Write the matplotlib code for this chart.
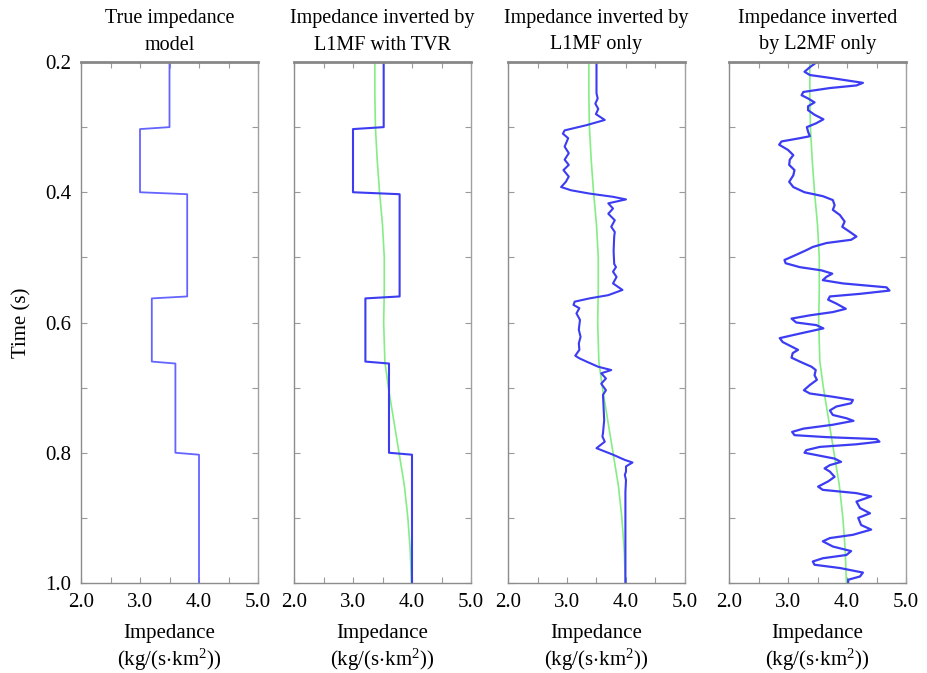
import numpy as np
import matplotlib
matplotlib.use("Agg")
import matplotlib.pyplot as plt
from matplotlib.ticker import FixedLocator

plt.rcParams['font.family'] = ['Liberation Serif', 'DejaVu Serif']
plt.rcParams['mathtext.fontset'] = 'custom'
plt.rcParams['mathtext.rm'] = 'Liberation Serif'
plt.rcParams['mathtext.default'] = 'regular'

titles = ["True impedance\nmodel",
          "Impedance inverted by\nL1MF with TVR",
          "Impedance inverted by\nL1MF only",
          "Impedance inverted\nby L2MF only"]
xlabel = "Impedance\n(kg/(s$\\cdot$km$^2$))"

# layered (blocky) models: layer top times and impedance values
layer_tops = [0.20, 0.30, 0.40, 0.56, 0.66, 0.80]
true_vals = [3.5, 3.0, 3.8, 3.2, 3.6, 4.0]
tvr_vals = [3.52, 3.0, 3.79, 3.21, 3.61, 4.0]

# low-frequency initial model (green)
init_t = [0.20, 0.25, 0.30, 0.35, 0.40, 0.45, 0.50, 0.55, 0.60, 0.66, 0.70,
          0.75, 0.80, 0.85, 0.90, 0.95, 1.00]
init_v = [3.37, 3.37, 3.38, 3.41, 3.45, 3.50, 3.53, 3.53, 3.52, 3.54, 3.60,
          3.69, 3.78, 3.87, 3.93, 3.97, 3.99]

# L1MF only (traced)
l1_t = [0.200, 0.248, 0.256, 0.264, 0.272, 0.280, 0.289, 0.297, 0.305, 0.310,
        0.317, 0.330, 0.340, 0.350, 0.358, 0.366, 0.376, 0.384, 0.392, 0.397,
        0.402, 0.407, 0.411, 0.417, 0.425, 0.433, 0.443, 0.453, 0.461, 0.468,
        0.490, 0.510, 0.515, 0.522, 0.530, 0.540, 0.550, 0.558, 0.563, 0.568,
        0.573, 0.578, 0.586, 0.596, 0.611, 0.622, 0.632, 0.642, 0.651, 0.655,
        0.660, 0.668, 0.673, 0.678, 0.686, 0.694, 0.704, 0.711, 0.730, 0.750,
        0.770, 0.775, 0.783, 0.793, 0.798, 0.803, 0.811, 0.815, 0.821, 0.829,
        0.834, 0.842, 0.860, 0.900, 1.000]
l1_v = [3.50, 3.50, 3.52, 3.48, 3.53, 3.49, 3.64, 3.33, 2.96, 2.93,
        3.02, 2.96, 3.03, 2.96, 3.03, 2.94, 3.03, 2.98, 2.90, 3.07,
        3.38, 3.78, 4.00, 3.70, 3.78, 3.70, 3.81, 3.75, 3.81, 3.80,
        3.79, 3.80, 3.83, 3.78, 3.84, 3.78, 3.94, 3.70, 3.38, 3.13,
        3.11, 3.21, 3.16, 3.22, 3.20, 3.23, 3.20, 3.21, 3.14, 3.21,
        3.33, 3.53, 3.75, 3.58, 3.66, 3.58, 3.66, 3.61, 3.62, 3.63,
        3.61, 3.60, 3.64, 3.50, 3.64, 3.78, 3.98, 4.11, 4.00, 4.00,
        3.98, 4.00, 3.99, 3.99, 3.99]

# L2MF only (traced)
l2_t = [0.200, 0.208, 0.215, 0.220, 0.225, 0.232, 0.236, 0.240, 0.246, 0.251,
        0.256, 0.262, 0.268, 0.274, 0.281, 0.288, 0.294, 0.300, 0.307, 0.314,
        0.317, 0.322, 0.327, 0.335, 0.343, 0.350, 0.358, 0.366, 0.374, 0.384,
        0.392, 0.400, 0.406, 0.412, 0.420, 0.427, 0.435, 0.445, 0.453, 0.461,
        0.468, 0.473, 0.478, 0.484, 0.489, 0.496, 0.504, 0.509, 0.515, 0.520,
        0.525, 0.530, 0.535, 0.540, 0.546, 0.551, 0.556, 0.560, 0.565, 0.571,
        0.579, 0.584, 0.589, 0.594, 0.600, 0.604, 0.609, 0.617, 0.624, 0.630,
        0.637, 0.642, 0.647, 0.654, 0.660, 0.668, 0.673, 0.681, 0.688, 0.696,
        0.704, 0.709, 0.714, 0.719, 0.724, 0.729, 0.735, 0.742, 0.747, 0.751,
        0.757, 0.763, 0.768, 0.773, 0.776, 0.779, 0.783, 0.787, 0.791, 0.796,
        0.800, 0.803, 0.809, 0.814, 0.819, 0.824, 0.829, 0.837, 0.844, 0.852,
        0.857, 0.862, 0.867, 0.875, 0.885, 0.893, 0.900, 0.911, 0.918, 0.926,
        0.931, 0.936, 0.944, 0.951, 0.957, 0.962, 0.967, 0.972, 0.977, 0.984,
        0.990, 0.995, 1.000]
l2_v = [3.49, 3.37, 3.28, 3.37, 3.76, 4.27, 4.16, 3.71, 3.26, 3.23,
        3.34, 3.45, 3.34, 3.34, 3.45, 3.60, 3.48, 3.32, 3.34, 3.37,
        3.20, 2.89, 2.85, 3.00, 3.09, 3.03, 3.02, 3.11, 3.09, 3.02,
        3.09, 3.28, 3.59, 3.76, 3.79, 3.76, 3.88, 3.96, 3.92, 4.05,
        4.16, 4.07, 3.65, 3.42, 3.31, 3.14, 2.94, 2.96, 3.20, 3.57,
        3.75, 3.65, 3.59, 3.93, 4.67, 4.72, 4.22, 3.71, 3.68, 3.82,
        3.98, 3.76, 3.37, 3.06, 3.14, 3.48, 3.60, 3.20, 2.86, 2.91,
        3.06, 3.17, 3.08, 3.06, 3.20, 3.40, 3.47, 3.45, 3.49, 3.37,
        3.27, 3.37, 3.76, 4.10, 4.07, 3.82, 3.71, 3.76, 3.99, 4.11,
        3.76, 3.26, 3.07, 3.11, 3.65, 4.50, 4.55, 4.16, 3.54, 3.31,
        3.28, 3.45, 3.79, 3.90, 3.71, 3.62, 3.71, 3.79, 3.68, 3.51,
        3.59, 4.16, 4.41, 4.16, 4.22, 4.39, 4.19, 4.24, 4.41, 4.10,
        3.71, 3.59, 3.76, 4.07, 3.99, 3.59, 3.42, 3.45, 3.88, 4.27,
        4.22, 4.02, 4.02]


def blocky(tops, vals, t_end=1.0, ramp=0.003):
    t, v = [tops[0]], [vals[0]]
    for i in range(1, len(tops)):
        t += [tops[i], tops[i] + ramp]
        v += [vals[i - 1], vals[i]]
    t.append(t_end)
    v.append(vals[-1])
    return v, t


fig = plt.figure(figsize=(9.27, 6.73), dpi=100)
lefts = [81, 294, 508, 729]
axes = [fig.add_axes([l / 927, 90 / 673, 177 / 927, 521 / 673]) for l in lefts]

blue_light = '#6464ff'
blue = '#3c3cf2'
green = '#84ee84'

x, t = blocky(layer_tops, true_vals)
axes[0].plot(x, t, color=blue_light, lw=1.3)

x, t = blocky(layer_tops, tvr_vals)
axes[1].plot(init_v, init_t, color=green, lw=1.2)
axes[1].plot(x, t, color=blue, lw=1.5)

axes[2].plot(init_v, init_t, color=green, lw=1.2)
axes[2].plot(l1_v, l1_t, color=blue, lw=1.5, solid_joinstyle='round')

axes[3].plot(init_v, init_t, color=green, lw=1.2)
axes[3].plot(l2_v, l2_t, color=blue, lw=1.6, solid_joinstyle='round')

for i, ax in enumerate(axes):
    ax.set_xlim(2.0, 5.0)
    ax.set_ylim(1.0, 0.2)
    ax.xaxis.set_major_locator(FixedLocator([2.0, 3.0, 4.0, 5.0]))
    ax.xaxis.set_minor_locator(FixedLocator([2.5, 3.5, 4.5]))
    ax.set_xticklabels(['2.0', '3.0', '4.0', '5.0'])
    ax.yaxis.set_major_locator(FixedLocator([0.2, 0.4, 0.6, 0.8, 1.0]))
    ax.yaxis.set_minor_locator(FixedLocator([0.3, 0.5, 0.7, 0.9]))
    if i == 0:
        ax.set_yticklabels(['0.2', '0.4', '0.6', '0.8', '1.0'])
        ax.set_ylabel('Time (s)', fontsize=15, labelpad=10)
    else:
        ax.set_yticklabels([])
    ax.tick_params(which='both', direction='in', length=4, width=0.8,
                   color='#9a9a9a', top=True, right=True, labelsize=15, pad=7)
    for s in ax.spines.values():
        s.set_color('#a0a0a0')
        s.set_linewidth(1.0)
    ax.spines['top'].set_color('#888888')
    ax.spines['top'].set_linewidth(2.0)
    ax.spines['left'].set_color('#8c8c8c')
    ax.spines['bottom'].set_color('#8c8c8c')
    ax.set_title(titles[i], fontsize=14.5, linespacing=1.5, pad=9)
    ax.set_xlabel(xlabel, fontsize=15, linespacing=1.2, labelpad=9)

fig.savefig('out.png', dpi=100, facecolor='white')
